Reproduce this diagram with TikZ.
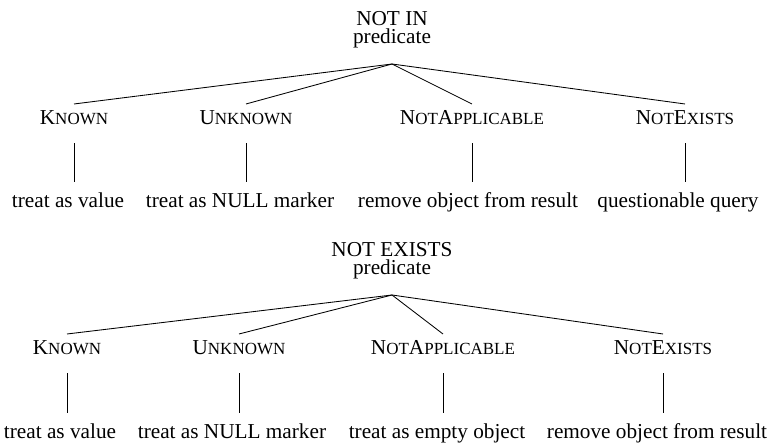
\documentclass[tikz,border=0pt]{standalone}
\usepackage{fontspec}
\setmainfont{Liberation Serif}
\usepackage{tikz}
\newcommand{\smcap}[2]{#1{\fontsize{8pt}{9pt}\selectfont #2}}

\begin{document}
\begin{tikzpicture}[x=0.4706pt, y=-0.4706pt,
    root/.style={anchor=south, align=center, font={\fontsize{10pt}{8.7pt}\selectfont}, text depth=6.1pt},
    value/.style={anchor=north, text height=6.1pt, text depth=5.2pt},
    action/.style={anchor=north, text height=8.4pt, text depth=2pt}]
            \useasboundingbox (0,0) rectangle (769,444);

            % NOT IN
            \node[root] (notin) at (392,64) {NOT IN\\predicate};
            \node[value] (known1) at (74,104) {\smcap{K}{NOWN}};
            \node[value] (unknown1) at (246,104) {\smcap{U}{NKNOWN}};
            \node[value] (notapp1) at (472,104) {\smcap{N}{OT}\smcap{A}{PPLICABLE}};
            \node[value] (notex1) at (685,104) {\smcap{N}{OT}\smcap{E}{XISTS}};
            \node[action] (do11) at (68,182) {treat as value};
            \node[action] (do12) at (240,182) {treat as NULL marker};
            \node[action] (do13) at (468,182) {remove object from result};
            \node[action] (do14) at (678,182) {questionable query};

            \draw (notin.south) -- (known1.north);
            \draw (notin.south) -- (unknown1.north);
            \draw (notin.south) -- (notapp1.north);
            \draw (notin.south) -- (notex1.north);
            \draw (known1.south) -- (known1.south |- do11.north);
            \draw (unknown1.south) -- (unknown1.south |- do12.north);
            \draw (notapp1.south) -- (notapp1.south |- do13.north);
            \draw (notex1.south) -- (notex1.south |- do14.north);

            % NOT EXISTS
            \node[root] (notexists) at (392,295) {NOT EXISTS\\predicate};
            \node[value] (known2) at (67,334) {\smcap{K}{NOWN}};
            \node[value] (unknown2) at (239,334) {\smcap{U}{NKNOWN}};
            \node[value] (notapp2) at (443,334) {\smcap{N}{OT}\smcap{A}{PPLICABLE}};
            \node[value] (notex2) at (663,334) {\smcap{N}{OT}\smcap{E}{XISTS}};
            \node[action] (do21) at (60,413) {treat as value};
            \node[action] (do22) at (232,413) {treat as NULL marker};
            \node[action] (do23) at (437,413) {treat as empty object};
            \node[action] (do24) at (657,413) {remove object from result};

            \draw (notexists.south) -- (known2.north);
            \draw (notexists.south) -- (unknown2.north);
            \draw (notexists.south) -- (notapp2.north);
            \draw (notexists.south) -- (notex2.north);
            \draw (known2.south) -- (known2.south |- do21.north);
            \draw (unknown2.south) -- (unknown2.south |- do22.north);
            \draw (notapp2.south) -- (notapp2.south |- do23.north);
            \draw (notex2.south) -- (notex2.south |- do24.north);
        \end{tikzpicture}
\end{document}
